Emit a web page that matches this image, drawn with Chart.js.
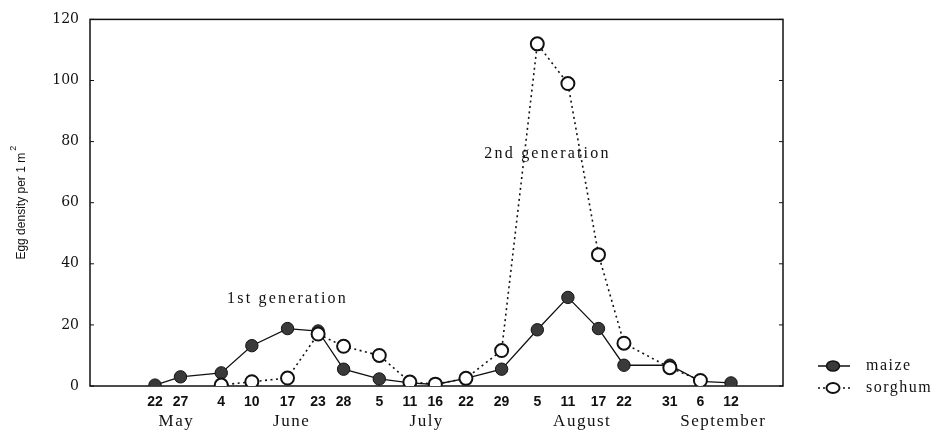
<!DOCTYPE html>
<html>
<head>
<meta charset="utf-8">
<script src="https://cdn.jsdelivr.net/npm/chart.js@4.4.1/dist/chart.umd.min.js"></script>
<style>
  html, body { margin: 0; padding: 0; background: #ffffff; }
  #wrap { position: relative; width: 943px; height: 435px; }
</style>
</head>
<body>
<div id="wrap"><canvas id="c" width="943" height="435"></canvas></div>
<script>
// Sampling dates as day of year (May 22 ... Sep 12)
const sampleDays = [142, 147, 155, 161, 168, 174, 179, 186, 192, 197, 203, 210, 217, 223, 229, 234, 243, 249, 255];
const dayLabels  = ['22', '27', '4', '10', '17', '23', '28', '5', '11', '16', '22', '29', '5', '11', '17', '22', '31', '6', '12'];

// Month labels and their positions (day of year)
const monthNames = ['May', 'June', 'July', 'August', 'September'];
const monthDays  = [146.2, 168.8, 195.3, 225.8, 253.5];

// Maize: all 19 dates
const maizeDays   = sampleDays;
const maizeValues = [0.3, 3, 4.3, 13.2, 18.8, 18, 5.5, 2.3, 1, 0.5, 2.5, 5.5, 18.4, 29, 18.8, 6.8, 6.8, 1.5, 1];

// Sorghum: June 4 ... Sep 6
const sorghumDays   = [155, 161, 168, 174, 179, 186, 192, 197, 203, 210, 217, 223, 229, 234, 243, 249];
const sorghumValues = [0.3, 1.4, 2.6, 17, 13, 10, 1.3, 0.6, 2.5, 11.6, 112, 99, 43, 14, 6, 1.8];

const yTicks = [0, 20, 40, 60, 80, 100, 120];

const annotations = [
  { text: '1st generation', day: 168, value: 28.5 },
  { text: '2nd generation', day: 219, value: 76 }
];

const seriesNames = ['maize', 'sorghum'];

const toPoints = (xs, ys) => xs.map((x, i) => ({ x: x, y: ys[i] }));

const decor = {
  id: 'decor',
  beforeDatasetsDraw(chart) {
    const { ctx, chartArea: a } = chart;
    ctx.save();
    ctx.strokeStyle = '#111';
    ctx.lineWidth = 1.5;
    ctx.strokeRect(a.left, a.top, a.right - a.left, a.bottom - a.top);
    const ys = chart.scales.y;
    ctx.lineWidth = 1;
    yTicks.forEach(v => {
      const py = ys.getPixelForValue(v);
      ctx.beginPath();
      ctx.moveTo(a.right, py); ctx.lineTo(a.right - 4, py);
      ctx.moveTo(a.left, py); ctx.lineTo(a.left + 4, py);
      ctx.stroke();
    });
    ctx.restore();
  },
  afterDraw(chart) {
    const { ctx, chartArea: a } = chart;
    const xs = chart.scales.x, ys = chart.scales.y;
    ctx.save();
    ctx.fillStyle = '#111';
    ctx.font = '17px "Liberation Serif"';
    ctx.letterSpacing = '1.5px';
    ctx.textAlign = 'center';
    ctx.textBaseline = 'middle';
    monthNames.forEach((m, i) => {
      ctx.fillText(m, xs.getPixelForValue(monthDays[i]), 422);
    });
    ctx.font = '16px "Liberation Serif"';
    ctx.letterSpacing = '2.2px';
    annotations.forEach(an => {
      ctx.fillText(an.text, xs.getPixelForValue(an.day), ys.getPixelForValue(an.value));
    });
    ctx.letterSpacing = '0px';
    ctx.translate(22, (a.top + a.bottom) / 2);
    ctx.rotate(-Math.PI / 2);
    ctx.font = '12px "Liberation Sans"';
    ctx.textAlign = 'left';
    const main = 'Egg density per 1 m';
    const w = ctx.measureText(main).width;
    ctx.font = '9px "Liberation Sans"';
    const ws = ctx.measureText('2').width;
    const start = -(w + ws + 2) / 2;
    ctx.font = '12px "Liberation Sans"';
    ctx.fillText(main, start, 0);
    ctx.font = '9px "Liberation Sans"';
    ctx.fillText('2', start + w + 2, -8);
    ctx.restore();

    // legend
    ctx.save();
    const lx0 = 818, lx1 = 850, cx = 833, tx = 866;
    const rows = [366, 388];
    ctx.strokeStyle = '#111';
    ctx.lineWidth = 1.5;
    ctx.beginPath(); ctx.moveTo(lx0, rows[0]); ctx.lineTo(lx1, rows[0]); ctx.stroke();
    ctx.beginPath(); ctx.ellipse(cx, rows[0], 6.5, 5, 0, 0, Math.PI * 2);
    ctx.fillStyle = '#3a3a3a'; ctx.fill(); ctx.stroke();
    ctx.setLineDash([2, 3]);
    ctx.beginPath(); ctx.moveTo(lx0, rows[1]); ctx.lineTo(lx1, rows[1]); ctx.stroke();
    ctx.setLineDash([]);
    ctx.beginPath(); ctx.ellipse(cx, rows[1], 6.5, 5, 0, 0, Math.PI * 2);
    ctx.fillStyle = '#ffffff'; ctx.fill(); ctx.lineWidth = 2; ctx.stroke();
    ctx.fillStyle = '#111';
    ctx.font = '16px "Liberation Serif"';
    ctx.letterSpacing = '1.5px';
    ctx.textAlign = 'left';
    ctx.textBaseline = 'middle';
    ctx.fillText(seriesNames[0], tx, rows[0]);
    ctx.fillText(seriesNames[1], tx, rows[1]);
    ctx.restore();
  }
};

new Chart(document.getElementById('c'), {
  type: 'scatter',
  data: {
    datasets: [
      {
        label: seriesNames[1],
        data: toPoints(sorghumDays, sorghumValues),
        showLine: true,
        order: 0,
        borderColor: '#111',
        borderWidth: 1.6,
        borderDash: [2, 3.5],
        pointRadius: 6.5,
        pointBackgroundColor: '#ffffff',
        pointBorderColor: '#111',
        pointBorderWidth: 2
      },
      {
        label: seriesNames[0],
        data: toPoints(maizeDays, maizeValues),
        showLine: true,
        order: 1,
        borderColor: '#111',
        borderWidth: 1.3,
        pointRadius: 6.2,
        pointBackgroundColor: '#3a3a3a',
        pointBorderColor: '#111',
        pointBorderWidth: 1
      }
    ]
  },
  options: {
    responsive: false,
    animation: false,
    layout: { padding: { left: 0, right: 160, top: 13, bottom: 0 } },
    plugins: { legend: { display: false }, tooltip: { enabled: false } },
    scales: {
      x: {
        type: 'linear',
        min: 129.25,
        max: 265.2,
        grid: { display: false, drawTicks: false },
        border: { display: false },
        afterBuildTicks: axis => { axis.ticks = sampleDays.map(v => ({ value: v })); },
        afterFit: axis => { axis.height = 49; },
        ticks: {
          autoSkip: false,
          maxRotation: 0,
          padding: 8,
          color: '#111',
          font: { family: '"Liberation Sans"', size: 14, weight: 'bold' },
          callback: (v, i) => dayLabels[i]
        }
      },
      y: {
        min: 0,
        max: 120,
        grid: { display: false, drawTicks: false },
        border: { display: false },
        afterBuildTicks: axis => { axis.ticks = yTicks.map(v => ({ value: v })); },
        afterFit: axis => { axis.width = 90; },
        ticks: {
          padding: 11,
          color: '#111',
          font: { family: '"DejaVu Serif"', size: 14 }
        }
      }
    }
  },
  plugins: [decor]
});
</script>
</body>
</html>
